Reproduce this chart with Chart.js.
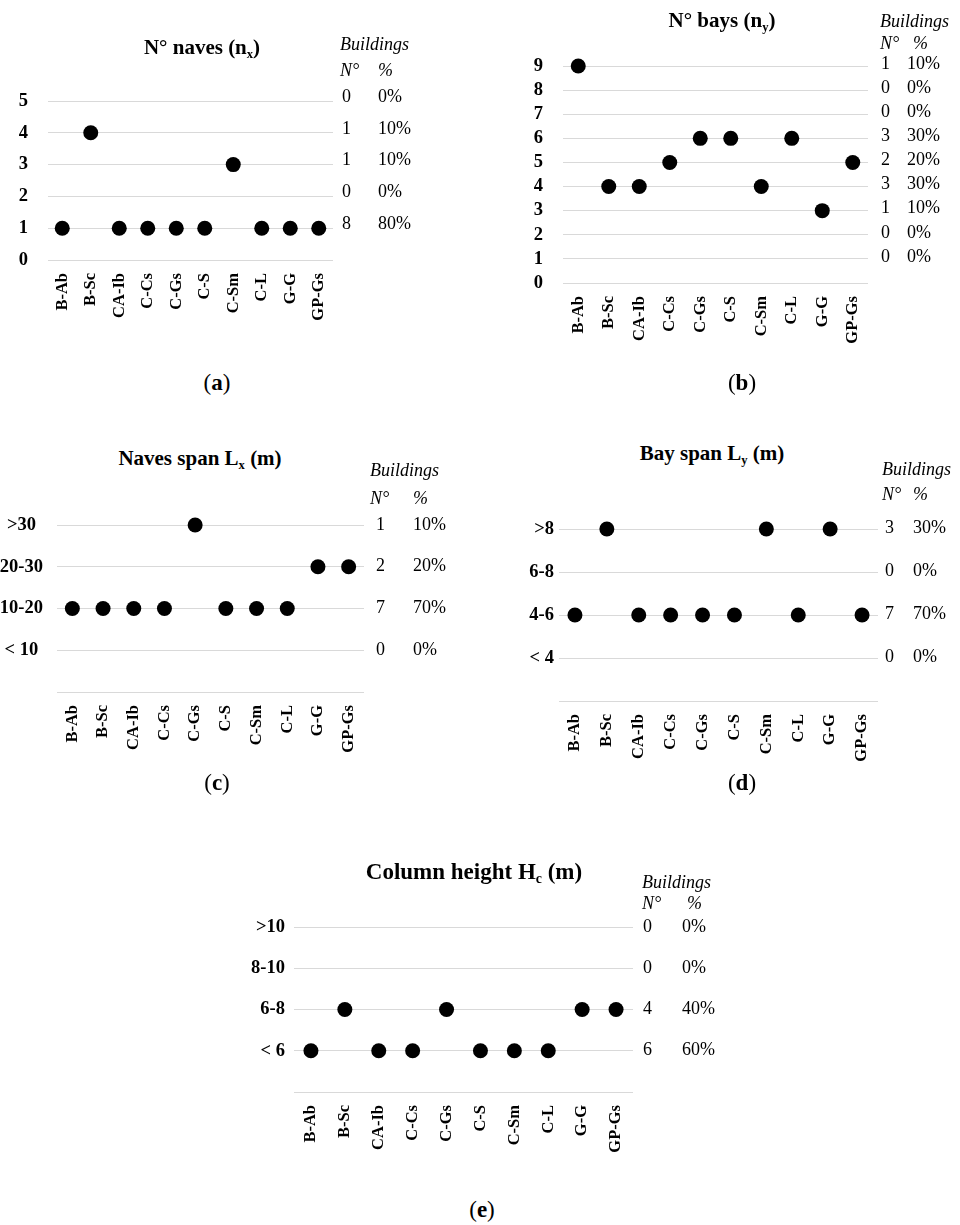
<!DOCTYPE html>
<html><head><meta charset="utf-8">
<script src="https://cdn.jsdelivr.net/npm/chart.js@4.4.0/dist/chart.umd.min.js"></script>
<style>
body{margin:0;background:#fff;width:960px;height:1225px;position:relative;overflow:hidden;font-family:'Liberation Serif',serif;color:#000}
canvas{position:absolute}
.t{position:absolute;white-space:nowrap}
.title{font-weight:bold;text-align:center;width:400px;height:26px;line-height:26px}
.title sub{font-size:0.6em;vertical-align:-0.3em;line-height:0}
.hd{font-style:italic;font-size:18px;height:20px;line-height:20px}
.cap{font-size:23px;text-align:center;width:100px;height:26px;line-height:26px}
</style></head><body>
<script>
// ---- data ----
const categories = ['B-Ab','B-Sc','CA-Ib','C-Cs','C-Gs','C-S','C-Sm','C-L','G-G','GP-Gs'];

const navesValues = [1,4,1,1,1,1,3,1,1,1];
const navesTicks = ['0','1','2','3','4','5'];
const navesBuildings = [8,0,1,1,0];          // levels 1..5
const navesPercent = [80,0,10,10,0];

const baysValues = [9,4,4,5,6,6,4,6,3,5];
const baysTicks = ['0','1','2','3','4','5','6','7','8','9'];
const baysBuildings = [0,0,1,3,2,3,0,0,1];   // levels 1..9
const baysPercent = [0,0,10,30,20,30,0,0,10];

const navesSpanValues = [2,2,2,2,4,2,2,2,3,3];
const navesSpanTicks = ['','< 10','10-20','20-30','>30'];
const navesSpanBuildings = [0,7,2,1];
const navesSpanPercent = [0,70,20,10];

const baySpanValues = [2,4,2,2,2,2,4,2,4,2];
const baySpanTicks = ['','< 4','4-6','6-8','>8'];
const baySpanBuildings = [0,7,0,3];
const baySpanPercent = [0,70,0,30];

const columnHeightValues = [1,2,1,1,2,1,1,1,2,2];
const columnHeightTicks = ['','< 6','6-8','8-10','>10'];
const columnHeightBuildings = [6,4,0,0];
const columnHeightPercent = [60,40,0,0];

// ---- side annotation plugin ----
const sidePlugin = {
  id:'side',
  afterDraw(chart, args, o){
    const ctx = chart.ctx, y = chart.scales.y;
    ctx.save();
    ctx.fillStyle = '#000';
    ctx.font = o.size + 'px "Liberation Serif"';
    ctx.textBaseline = 'middle';
    ctx.textAlign = 'left';
    o.counts.forEach((c,i)=>{
      const py = y.getPixelForValue(i+1) + o.dy;
      ctx.fillText(String(c), o.nX - o.left, py);
      ctx.fillText(o.pcts[i] + '%', o.pX - o.left, py);
    });
    ctx.restore();
  }
};

function addText(cls, html, left, cy, extra){
  const d = document.createElement('div');
  d.className = 't ' + cls;
  d.innerHTML = html;
  d.style.left = left + 'px';
  d.style.top = (cy - 13) + 'px';
  if (extra) Object.assign(d.style, extra);
  document.body.appendChild(d);
  return d;
}

function panel(p){
  const cv = document.createElement('canvas');
  const h = p.area.b - p.top + 90;
  cv.width = p.w; cv.height = h;
  cv.style.left = p.left + 'px'; cv.style.top = p.top + 'px';
  cv.style.width = p.w + 'px'; cv.style.height = h + 'px';
  document.body.appendChild(cv);
  new Chart(cv, {
    type:'line',
    data:{labels:categories, datasets:[{data:p.values, showLine:false, clip:false, pointRadius:7.5, pointHoverRadius:7.5,
      pointBackgroundColor:'#000', pointBorderColor:'#000', pointBorderWidth:0}]},
    options:{
      responsive:false, animation:false, events:[],
      layout:{padding:{left:0, top:p.area.t - p.top, right:p.left + p.w - p.area.r, bottom:0}},
      plugins:{legend:{display:false}, tooltip:{enabled:false},
        side:{counts:p.counts, pcts:p.pcts, nX:p.nX, pX:p.pX, dy:p.dy, left:p.left, size:18}},
      scales:{
        x:{type:'category', offset:true, grid:{display:false, drawTicks:false}, border:{display:false},
          ticks:{autoSkip:false, minRotation:90, maxRotation:90, padding:13, color:'#000',
            font:{family:'Liberation Serif', size:16.5, weight:'bold'}},
          afterFit(s){ s.height = p.top + h - p.area.b; }},
        y:{min:0, max:p.ticks.length-1, grid:{color:'#d9d9d9', drawTicks:false, lineWidth:1}, border:{display:false},
          ticks:{stepSize:1, autoSkip:false, padding:p.pad, crossAlign:p.align, color:'#000',
            font:{family:'Liberation Serif', size:18.5, weight:'bold'},
            callback:(v)=>p.ticks[v]},
          afterFit(s){ s.width = p.area.l - p.left; }}
      }
    },
    plugins:[sidePlugin]
  });
  addText('title', p.title, p.tx - 200, p.ty, {fontSize:p.tsize + 'px'});
  addText('hd', 'Buildings', p.hx, p.hy + 3);
  addText('hd', 'N°', p.hx, p.hy2 + 3);
  addText('hd', '%', p.hp, p.hy2 + 3);
  addText('cap', '(<b>' + p.cap + '</b>)', p.cx - 50, p.cy);
}

panel({left:0, top:60, w:480, area:{l:48,r:333,t:101,b:260}, values:navesValues, ticks:navesTicks,
  counts:navesBuildings, pcts:navesPercent, nX:342, pX:378, dy:-4, pad:20, align:'near',
  title:'N° naves (n<sub>x</sub>)', tx:202, ty:47, tsize:21,
  hx:340, hy:44, hy2:70, hp:378, cap:'a', cx:217, cy:383});

panel({left:480, top:30, w:480, area:{l:563,r:868,t:66,b:283}, values:baysValues, ticks:baysTicks,
  counts:baysBuildings, pcts:baysPercent, nX:881, pX:907, dy:-2, pad:20, align:'near',
  title:'N° bays (n<sub>y</sub>)', tx:722, ty:20, tsize:21,
  hx:880, hy:21, hy2:43, hp:913, cap:'b', cx:742, cy:383});

panel({left:0, top:480, w:480, area:{l:57,r:364,t:525,b:692}, values:navesSpanValues, ticks:navesSpanTicks,
  counts:navesSpanBuildings, pcts:navesSpanPercent, nX:376, pX:413, dy:0, pad:14, align:'center',
  title:'Naves span L<sub>x</sub> (m)', tx:200, ty:458, tsize:21,
  hx:370, hy:470, hy2:498, hp:413, cap:'c', cx:217, cy:783});

panel({left:480, top:480, w:480, area:{l:559,r:878,t:529,b:701}, values:baySpanValues, ticks:baySpanTicks,
  counts:baySpanBuildings, pcts:baySpanPercent, nX:885, pX:913, dy:-1, pad:5, align:'near',
  title:'Bay span L<sub>y</sub> (m)', tx:712, ty:453, tsize:21,
  hx:882, hy:469, hy2:494, hp:913, cap:'d', cx:742, cy:783});

panel({left:240, top:880, w:480, area:{l:294,r:633,t:927,b:1092}, values:columnHeightValues, ticks:columnHeightTicks,
  counts:columnHeightBuildings, pcts:columnHeightPercent, nX:643, pX:682, dy:0, pad:9, align:'near',
  title:'Column height H<sub>c</sub> (m)', tx:474, ty:872, tsize:23,
  hx:642, hy:882, hy2:903, hp:687, cap:'e', cx:482, cy:1210});
</script>
</body></html>
